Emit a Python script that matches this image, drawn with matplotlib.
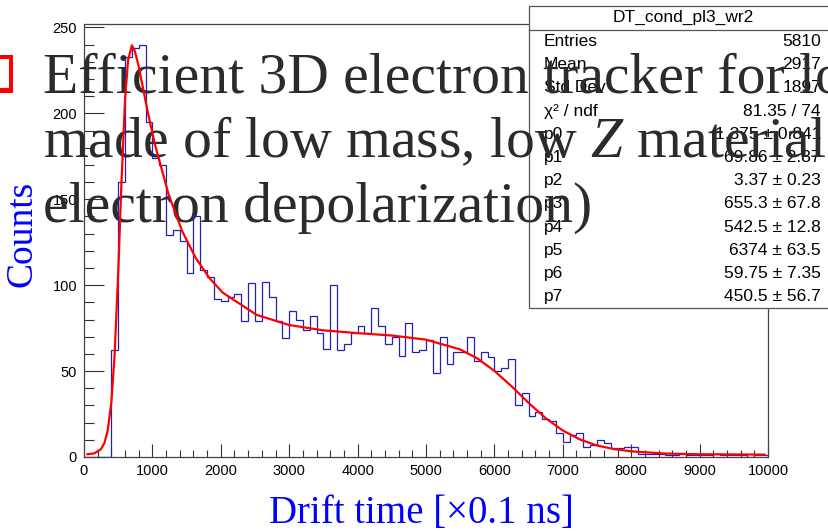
import numpy as np
import matplotlib.pyplot as plt
from matplotlib.patches import Rectangle

plt.rcParams['mathtext.fontset'] = 'custom'
plt.rcParams['mathtext.rm'] = 'Liberation Serif'
plt.rcParams['mathtext.it'] = 'Liberation Serif:italic'

# histogram DT_cond_pl3_wr2: 100 bins from 0 to 10000 (x0.1 ns)
x_lo, x_hi = 0, 10000
counts = [0, 0, 0, 0, 62, 160, 233, 238, 240, 195,
          174, 170, 129, 132, 126, 107, 140, 109, 105, 92,
          91, 93, 95, 79, 101, 79, 102, 93, 79, 69,
          85, 80, 74, 82, 72, 63, 100, 62, 66, 72,
          76, 72, 87, 76, 66, 70, 59, 78, 61, 62,
          68, 49, 70, 54, 61, 61, 70, 56, 61, 58,
          50, 52, 57, 30, 37, 24, 26, 22, 21, 14,
          9, 13, 14, 6, 7, 10, 8, 5, 5, 6,
          6, 2, 2, 2, 2, 1, 1, 2, 1, 1,
          1, 1, 2, 1, 1, 1, 1, 0, 1, 1]

# fitted curve (red)
fit_t = [50, 149, 248, 300, 347, 400, 446, 500, 545, 600, 644, 700, 743, 800, 842, 941,
         1040, 1238, 1436, 1634, 1832, 2030, 2525, 3000, 3500, 4000, 4500, 5000, 5500,
         5750, 6000, 6250, 6500, 6750, 7000, 7250, 7500, 7750, 8000, 8500, 9000, 9950]
fit_v = [1.6, 2.1, 4.5, 8.3, 15.5, 32, 58.2, 107, 156.8, 208, 230.9, 239.6, 236.3, 227.2, 218.8, 199.1,
         181.4, 152.7, 131.4, 115.8, 104.2, 95.6, 82.7, 76.8, 73.7, 72.1, 70.7, 68.3, 62.6,
         57.4, 50.1, 41.2, 31.5, 22.6, 15.4, 10.2, 6.7, 4.6, 3.3, 2.0, 1.6, 1.4]

stat_names = ["Entries", "Mean", "Std Dev", "χ² / ndf", "p0", "p1", "p2", "p3", "p4", "p5", "p6", "p7"]
stat_values = ["5810", "2917", "1897", "81.35 / 74", "1.375 ± 0.841", "69.86 ± 2.87",
               "3.37 ± 0.23", "655.3 ± 67.8", "542.5 ± 12.8", "6374 ± 63.5",
               "59.75 ± 7.35", "450.5 ± 56.7"]

slide_lines = ["Efficient 3D electron tracker for low",
               "made of low mass, low $Z$ material",
               "electron depolarization)"]

W, H = 829, 532
fig = plt.figure(figsize=(W / 100, H / 100), dpi=100)
ax = fig.add_axes([84 / W, 1 - 457 / H, 684 / W, 433 / H])


def fx(px):
    return px / W


def fy(py):
    return 1 - py / H


edges = np.linspace(x_lo, x_hi, len(counts) + 1)
ax.stairs(counts, edges, color='#2222b0', lw=0.9, zorder=5)
ax.plot(fit_t, fit_v, color='#ff0000', lw=1.6, zorder=6)

ax.set_xlim(x_lo, x_hi)
ax.set_ylim(0, 252)
ax.set_xticks(range(0, 10001, 1000))
ax.set_xticks(range(0, 10001, 200), minor=True)
ax.set_yticks(range(0, 251, 50))
ax.set_yticks(range(0, 251, 10), minor=True)
ax.tick_params(axis='both', which='both', direction='in', color='#333333',
               labelsize=10.5, top=False, right=False)
ax.tick_params(axis='x', which='major', length=9.5, width=0.8, pad=5)
ax.tick_params(axis='x', which='minor', length=4.7, width=0.8)
ax.tick_params(axis='y', which='major', length=14.5, width=0.8, pad=5)
ax.tick_params(axis='y', which='minor', length=7.2, width=0.8)
for lab in ax.get_xticklabels() + ax.get_yticklabels():
    lab.set_fontfamily('Liberation Sans')
for sp in ax.spines.values():
    sp.set_color('#444444')
    sp.set_linewidth(0.9)

# axis titles
fig.text(fx(421), fy(513), "Drift time [×0.1 ns]", color='#0000ff', fontsize=28,
         family='Liberation Serif', ha='center', va='center')
fig.text(fx(22), fy(234), "Counts", color='#0000ff', fontsize=27, rotation=90,
         family='Liberation Serif', ha='center', va='center')

# stats box
box = Rectangle((fx(529), fy(308)), fx(310), 302 / H, transform=fig.transFigure,
                facecolor='white', edgecolor='#555555', lw=0.9, zorder=3, clip_on=False)
ax.add_artist(box)
ax.plot([fx(529), fx(839)], [fy(29.5), fy(29.5)], transform=fig.transFigure,
        color='#555555', lw=0.9, zorder=3, clip_on=False)
ax.text(fx(683), fy(17), "DT_cond_pl3_wr2", transform=fig.transFigure, fontsize=12.5,
        family='Liberation Sans', ha='center', va='center', zorder=3.5, clip_on=False)
for i, (name, val) in enumerate(zip(stat_names, stat_values)):
    y = fy(41.5 + 23.2 * i)
    ax.text(fx(544), y, name, transform=fig.transFigure, fontsize=12.5,
            family='Liberation Sans', ha='left', va='center', zorder=3.5, clip_on=False)
    ax.text(fx(821), y, val, transform=fig.transFigure, fontsize=12.5,
            family='Liberation Sans', ha='right', va='center', zorder=3.5, clip_on=False)

# slide text lying over the plot
for i, line in enumerate(slide_lines):
    ax.text(fx(43), fy(92.7 + 64.5 * i), line, transform=fig.transFigure, fontsize=41.5,
            family='Liberation Serif', color='#2b2b2b', ha='left', va='baseline',
            zorder=4, clip_on=False)

# red square bullet (cut at left edge)
fig.add_artist(Rectangle((fx(-20), fy(93)), fx(33), 38 / H, transform=fig.transFigure,
                         facecolor='#ff0000', edgecolor='none'))
fig.add_artist(Rectangle((fx(-20), fy(88)), fx(29), 29 / H, transform=fig.transFigure,
                         facecolor='white', edgecolor='none'))

fig.savefig('out.png', dpi=100)
